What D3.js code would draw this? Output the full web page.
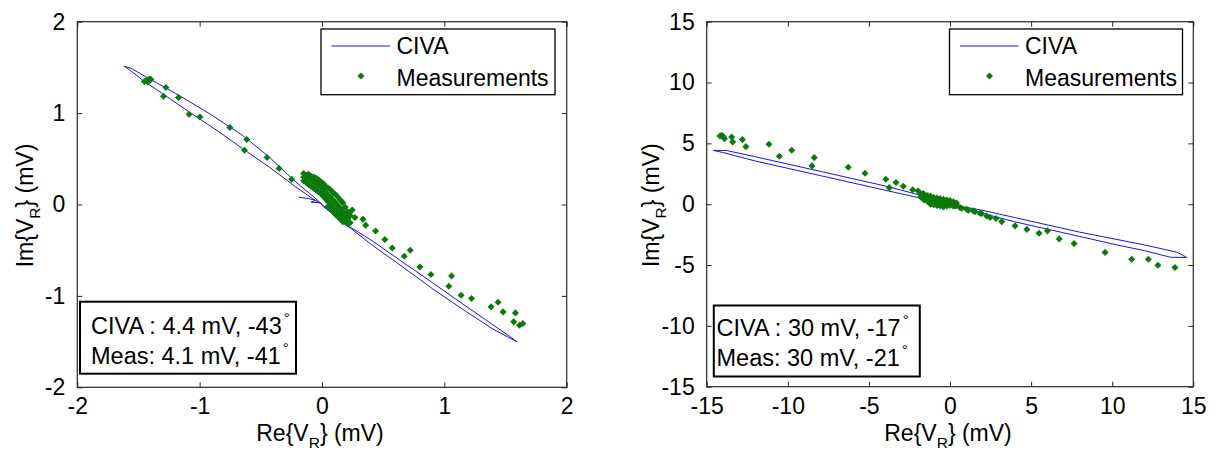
<!DOCTYPE html>
<html><head><meta charset="utf-8">
<script src="https://cdn.jsdelivr.net/npm/d3@7"></script>
<style>
body{margin:0;background:#fff}
svg{display:block}
text{font-family:"Liberation Sans",Arial,Helvetica,sans-serif;fill:#000}
</style>
</head><body>
<svg id="chart" width="1215" height="450"></svg>
<script>
// ---------------- data ----------------
const leftTicks = [-2, -1, 0, 1, 2];
const rightTicks = [-15, -10, -5, 0, 5, 10, 15];
const legendLabels = ["CIVA", "Measurements"];
const xLabel = ["Re{V", "R", "} (mV)"];
const yLabel = ["Im{V", "R", "} (mV)"];
const leftNote = ["CIVA : 4.4 mV, -43", "Meas: 4.1 mV, -41"];
const rightNote = ["CIVA : 30 mV, -17", "Meas: 30 mV, -21"];

// CIVA simulated trajectory, left panel
const leftCivaX = [-0.19,-0.11,-0.05,-0.09,-0.02,0,
  -0.06,-0.215,-0.433,-0.651,-0.922,-1.194,-1.439,-1.56,-1.616,
  -1.54,-1.467,-1.304,-1.086,-0.841,-0.651,-0.433,-0.215,-0.079,0,
  0.1,0.207,0.411,0.629,0.9,1.173,1.39,1.52,1.594,
  1.527,1.39,1.173,0.9,0.629,0.411,0.22,0.1,0];
const leftCivaY = [0.08,0.065,0.045,0.025,0.02,0,
  0.075,0.247,0.521,0.758,0.996,1.214,1.396,1.49,1.513,
  1.44,1.36,1.214,1.013,0.794,0.613,0.411,0.193,0.066,0,
  -0.11,-0.228,-0.398,-0.602,-0.853,-1.109,-1.31,-1.43,-1.503,
  -1.455,-1.357,-1.167,-0.919,-0.653,-0.445,-0.245,-0.12,-0.01];

// Measurements, left panel
const leftMeasX = [-1.434,-1.412,-1.451,-1.423,-1.398,-1.276,-1.295,-1.173,-1.086,-0.998,-0.753,-0.615,-0.634,-0.449,-0.351,-0.248,
  -0.15,-0.15,-0.15,-0.13,-0.13,-0.13,-0.11,-0.11,-0.11,-0.09,-0.09,-0.09,-0.07,-0.07,-0.07,-0.05,-0.05,-0.05,
  -0.03,-0.03,-0.03,-0.01,-0.01,-0.01,0.01,0.01,0.01,0.03,0.03,0.03,
  0.05,0.05,0.05,0.05,0.07,0.07,0.07,0.07,0.09,0.09,0.09,0.09,0.11,0.11,0.11,0.11,
  0.13,0.13,0.13,0.13,0.15,0.15,0.15,0.15,0.17,0.17,0.17,0.17,0.19,0.19,0.19,0.21,0.21,0.21,0.23,0.23,0.247,0.22,
  0.269,0.335,0.357,0.438,0.514,0.574,0.672,0.721,0.800,0.890,1.059,1.037,1.137,1.222,1.382,1.439,1.480,1.581,1.567,1.614,1.641];
const leftMeasY = [1.360,1.374,1.346,1.338,1.368,1.280,1.185,1.171,0.988,0.958,0.842,0.711,0.594,0.514,0.394,0.277,
  0.34,0.30,0.26,0.32,0.28,0.24,0.33,0.29,0.22,0.31,0.27,0.20,0.30,0.25,0.18,0.29,0.23,0.16,
  0.27,0.21,0.14,0.25,0.19,0.12,0.23,0.16,0.09,0.20,0.13,0.06,
  0.18,0.10,0.03,-0.02,0.16,0.08,0.00,-0.05,0.13,0.05,-0.03,-0.08,0.11,0.02,-0.06,-0.11,
  0.08,-0.01,-0.09,-0.13,0.05,-0.04,-0.12,-0.16,0.02,-0.08,-0.15,-0.19,-0.03,-0.12,-0.19,-0.08,-0.16,-0.21,-0.12,-0.20,-0.06,-0.10,
  -0.142,-0.161,-0.226,-0.289,-0.383,-0.475,-0.566,-0.500,-0.683,-0.766,-0.781,-0.894,-0.992,-1.028,-1.120,-1.069,-1.175,-1.186,-1.284,-1.321,-1.302];

// CIVA simulated trajectory, right panel
const rightCivaX = [0,-2,-4,-8,-10,-12,-13.8,-14.6,-14,-12,-10,-8,-4,-2,0,
  2,4,8,10.3,12,14,14.6,13.6,12,10.3,8,4,2,0];
const rightCivaY = [0.05,0.8,1.5,2.7,3.3,3.9,4.42,4.42,4.25,3.55,2.95,2.35,1.15,0.55,-0.02,
  -0.5,-1.1,-2.3,-2.9,-3.35,-3.95,-4.38,-4.36,-3.82,-3.35,-2.65,-1.45,-0.75,0.05];

// Measurements, right panel
const rightMeasX = [-14.18,-14.08,-13.98,-13.91,-13.46,-13.40,-12.80,-12.58,-11.16,-10.52,-9.76,-8.51,-8.37,-6.27,-5.24,-3.96,-3.74,-3.33,-2.88,-2.30,-1.97,-1.65,
  -1.8,-1.8,-1.6,-1.6,-1.6,-1.4,-1.4,-1.4,-1.2,-1.2,-1.2,-1.2,-1.0,-1.0,-1.0,-1.0,-0.8,-0.8,-0.8,-0.8,
  -0.6,-0.6,-0.6,-0.6,-0.4,-0.4,-0.4,-0.4,-0.2,-0.2,-0.2,-0.2,0.0,0.0,0.0,0.2,0.2,0.2,0.4,0.4,
  0.31,0.62,0.72,1.03,1.13,1.44,1.54,1.85,1.95,2.26,2.47,2.84,3.19,4.01,4.74,5.49,6.01,6.73,7.65,9.56,11.20,12.23,12.82,13.87];
const rightMeasY = [5.61,5.67,5.56,5.39,5.53,5.12,5.31,4.73,4.93,3.94,4.44,3.15,3.83,3.04,2.55,2.05,1.36,1.78,1.48,1.18,1.09,0.87,
  0.85,0.6,0.8,0.55,0.35,0.72,0.5,0.25,0.65,0.4,0.15,0.0,0.55,0.35,0.1,-0.05,0.5,0.3,0.05,-0.1,
  0.45,0.25,0.0,-0.15,0.4,0.2,-0.05,-0.2,0.35,0.15,-0.05,-0.15,0.3,0.1,-0.1,0.2,0.0,-0.15,0.1,-0.1,
  -0.14,-0.28,-0.33,-0.41,-0.49,-0.55,-0.61,-0.74,-0.77,-0.96,-1.10,-1.18,-1.43,-1.78,-2.07,-2.39,-2.19,-2.85,-3.24,-3.96,-4.53,-4.52,-5.02,-5.21];

// ---------------- drawing ----------------
const svg = d3.select("#chart");
svg.append("rect").attr("width",1215).attr("height",450).attr("fill","#fff");

const FS = 23;
const NOTE_FS = 23.5;
const LINE_COLOR = "#1818d8";
const DOT_COLOR = "#0b7a0b";
const FRAME = "#262626";
const marker = d3.symbol().type(d3.symbolSquare).size(25);

function subLabel(sel, parts){
  sel.append("tspan").text(parts[0]);
  sel.append("tspan").attr("font-size",15.5).attr("dy",7).text(parts[1]);
  sel.append("tspan").attr("dy",-7).text(parts[2]);
}

function panel(o){
  const x = d3.scaleLinear().domain(o.dom).range([o.x0, o.x1]);
  const y = d3.scaleLinear().domain(o.dom).range([o.y1, o.y0]);
  const g = svg.append("g");

  // CIVA curve
  const pts = o.civaX.map((v,i)=>[v, o.civaY[i]]);
  g.append("path").datum(pts)
    .attr("d", d3.line().x(d=>x(d[0])).y(d=>y(d[1])))
    .attr("fill","none").attr("stroke",LINE_COLOR).attr("stroke-width",1)
    .attr("stroke-linejoin","round");

  // measurements
  const meas = o.measX.map((v,i)=>[v, o.measY[i]]);
  g.append("g").selectAll("path").data(meas).join("path")
    .attr("d", marker)
    .attr("transform", d=>`translate(${x(d[0])},${y(d[1])}) rotate(45)`)
    .attr("fill", DOT_COLOR);

  const fmt = d => String(d);
  const styleAxis = a => {
    a.select(".domain").remove();
    a.selectAll(".tick line").attr("stroke",FRAME);
    a.selectAll(".tick text").attr("font-size",FS).attr("fill","#000")
      .attr("font-family",'"Liberation Sans",Arial,Helvetica,sans-serif');
  };
  g.append("g").attr("transform",`translate(0,${o.y1})`)
    .call(d3.axisBottom(x).tickValues(o.ticks).tickSize(-5).tickPadding(10.5).tickFormat(fmt)).call(styleAxis);
  g.append("g").attr("transform",`translate(0,${o.y0})`)
    .call(d3.axisTop(x).tickValues(o.ticks).tickSize(-5).tickFormat("")).call(styleAxis);
  g.append("g").attr("transform",`translate(${o.x0},0)`)
    .call(d3.axisLeft(y).tickValues(o.ticks).tickSize(-5).tickPadding(12).tickFormat(fmt)).call(styleAxis);
  g.append("g").attr("transform",`translate(${o.x1},0)`)
    .call(d3.axisRight(y).tickValues(o.ticks).tickSize(-5).tickFormat("")).call(styleAxis);

  // frame
  g.append("rect").attr("x",o.x0).attr("y",o.y0)
    .attr("width",o.x1-o.x0).attr("height",o.y1-o.y0)
    .attr("fill","none").attr("stroke",FRAME).attr("stroke-width",1.2);

  // axis labels
  subLabel(g.append("text").attr("x",(o.x0+o.x1)/2-2).attr("y",440.5)
    .attr("text-anchor","middle").attr("font-size",FS), xLabel);
  subLabel(g.append("text").attr("transform",`translate(${o.ylx},${(o.y0+o.y1)/2+1}) rotate(-90)`)
    .attr("text-anchor","middle").attr("font-size",FS), yLabel);

  // legend
  const L = o.leg;
  g.append("rect").attr("x",L.x).attr("y",29).attr("width",L.w).attr("height",65.7)
    .attr("fill","#fff").attr("stroke","#000").attr("stroke-width",1.3);
  g.append("line").attr("x1",L.x+10.5).attr("x2",L.x+69).attr("y1",46).attr("y2",46)
    .attr("stroke",LINE_COLOR).attr("stroke-width",1);
  g.append("path").attr("d",marker).attr("transform",`translate(${L.x+40},76) rotate(45)`).attr("fill",DOT_COLOR);
  g.append("text").attr("x",L.x+75.5).attr("y",54).attr("font-size",FS).text(legendLabels[0]);
  g.append("text").attr("x",L.x+75.5).attr("y",85.7).attr("font-size",FS).text(legendLabels[1]);

  // annotation box
  const N = o.note;
  g.append("rect").attr("x",N.x).attr("y",N.y).attr("width",N.w).attr("height",N.h)
    .attr("fill","#fff").attr("stroke","#000").attr("stroke-width",2);
  o.noteText.forEach((t,i)=>{
    const tx = g.append("text").attr("x",N.tx).attr("y",N.b[i]).attr("font-size",NOTE_FS);
    tx.append("tspan").text(t);
    tx.append("tspan").attr("font-size",15).attr("dx",2).attr("dy",-11).text("°");
  });
}

panel({dom:[-2,2], x0:77.3, x1:566.7, y0:21.7, y1:387.3, ticks:leftTicks,
  civaX:leftCivaX, civaY:leftCivaY, measX:leftMeasX, measY:leftMeasY,
  ylx:33, leg:{x:321, w:234}, note:{x:80, y:301.7, w:216, h:72, tx:91, b:[333.5,364.3]},
  noteText:leftNote});

panel({dom:[-15,15], x0:706.7, x1:1193.3, y0:21.7, y1:386.7, ticks:rightTicks,
  civaX:rightCivaX, civaY:rightCivaY, measX:rightMeasX, measY:rightMeasY,
  ylx:658.7, leg:{x:949.5, w:233}, note:{x:713.8, y:305.5, w:206, h:71, tx:716.5, b:[335.5,366]},
  noteText:rightNote});
</script>
</body></html>
